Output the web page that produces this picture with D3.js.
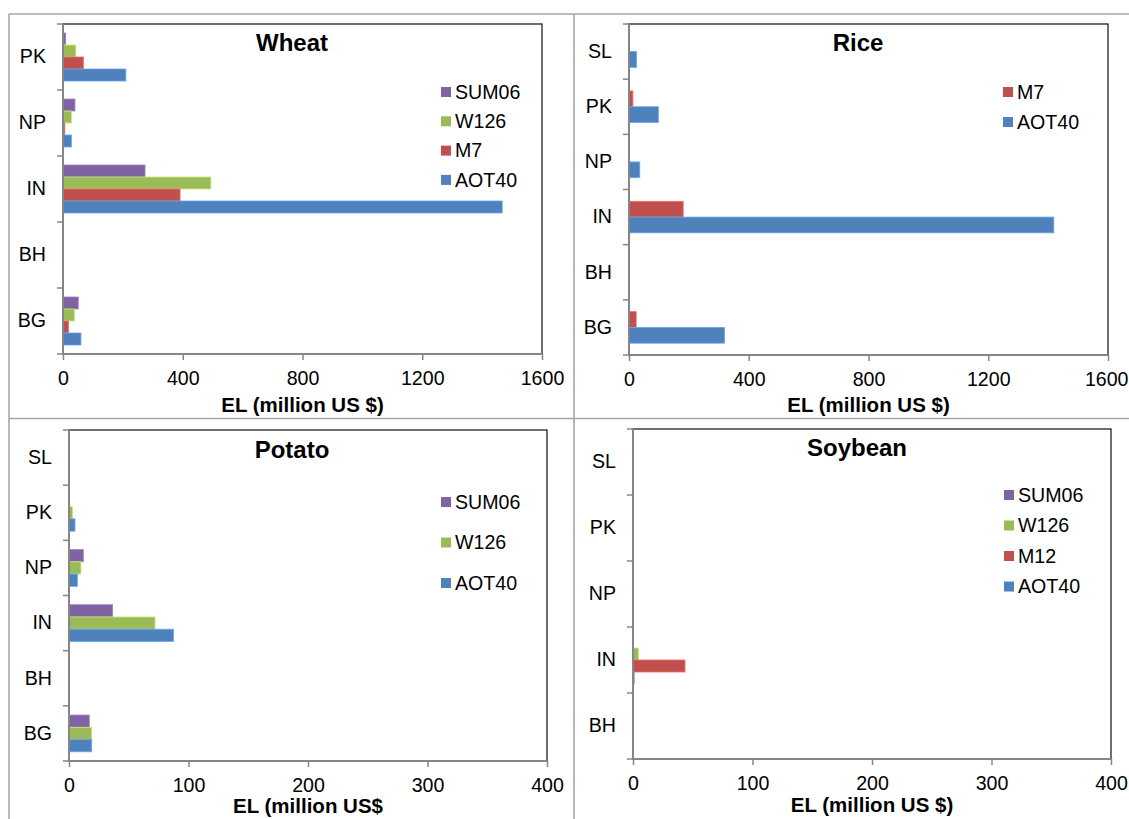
<!DOCTYPE html>
<html>
<head>
<meta charset="utf-8">
<script src="https://cdn.jsdelivr.net/npm/d3@7"></script>
<style>
  body { margin: 0; background: #fff; }
  svg { display: block; font-family: "Liberation Sans", Arial, sans-serif; }
</style>
</head>
<body>
<svg width="1129" height="819"></svg>
<script>
// data (million US $)
var wheatCats = ["PK", "NP", "IN", "BH", "BG"];
var wheatSeries = ["SUM06", "W126", "M7", "AOT40"];
var wheatSUM06 = [9, 40, 274, 0, 51];
var wheatW126 = [43, 28, 494, 0, 38];
var wheatM7 = [68, 6, 391, 0, 18];
var wheatAOT40 = [210, 28, 1467, 0, 60];

var riceCats = ["SL", "PK", "NP", "IN", "BH", "BG"];
var riceSeries = ["M7", "AOT40"];
var riceM7 = [0, 13, 0, 181, 0, 24];
var riceAOT40 = [25, 98, 36, 1419, 0, 319];

var potatoCats = ["SL", "PK", "NP", "IN", "BH", "BG"];
var potatoSeries = ["SUM06", "W126", "AOT40"];
var potatoSUM06 = [0, 0.5, 12, 36.5, 0, 17];
var potatoW126 = [0, 3, 10, 72, 0, 19];
var potatoAOT40 = [0, 5, 7, 87.5, 0, 19];

var soyCats = ["SL", "PK", "NP", "IN", "BH"];
var soySeries = ["SUM06", "W126", "M12", "AOT40"];
var soySUM06 = [0, 0, 0, 0, 0];
var soyW126 = [0, 0, 0, 4.5, 0];
var soyM12 = [0, 0, 0, 43.5, 0];
var soyAOT40 = [0, 0, 0, 1, 0];

var bigTicks = [0, 400, 800, 1200, 1600];
var smallTicks = [0, 100, 200, 300, 400];

var color = {SUM06: "#8064A2", W126: "#9BBB59", M7: "#C0504D", M12: "#C0504D", AOT40: "#4F81BD"};

var fs = "19.6px";
var W = 1129;

var svg = d3.select("svg");

// light frames round the four charts
var frame = svg.append("g").attr("stroke", "#a6a6a6").attr("stroke-width", 1.6);
frame.append("line").attr("x1", 9).attr("x2", W).attr("y1", 14).attr("y2", 14);
frame.append("line").attr("x1", 9).attr("x2", 9).attr("y1", 14).attr("y2", 819);
frame.append("line").attr("x1", 574).attr("x2", 574).attr("y1", 14).attr("y2", 819);
frame.append("line").attr("x1", 9).attr("x2", W).attr("y1", 418.5).attr("y2", 418.5);

function drawPanel(p) {
  var x = d3.scaleLinear().domain([0, p.max]).range([p.x0, p.x1]);
  var y = d3.scaleBand().domain(p.cats).range([p.y0, p.y1]).paddingInner(0).paddingOuter(0);
  // gap width 150% like excel
  var ys = d3.scaleBand().domain(p.series).range([0, y.bandwidth()]).paddingInner(0).paddingOuter(0.75);

  var g = svg.append("g");

  // plot area box
  g.append("rect")
    .attr("x", p.x0).attr("y", p.y0)
    .attr("width", p.x1 - p.x0).attr("height", p.y1 - p.y0)
    .attr("fill", "none").attr("stroke", "#222").attr("stroke-width", 1.3);

  var rows = [];
  p.cats.forEach(function(c, i) {
    p.series.forEach(function(s, j) {
      rows.push({cat: c, series: s, value: p.values[j][i]});
    });
  });

  g.selectAll("rect.bar")
    .data(rows.filter(function(d) { return d.value > 0; }))
    .enter().append("rect")
    .attr("class", "bar")
    .attr("x", x(0))
    .attr("y", function(d) { return y(d.cat) + ys(d.series); })
    .attr("width", function(d) { return x(d.value) - x(0); })
    .attr("height", ys.bandwidth())
    .attr("fill", function(d) { return color[d.series]; })
    .attr("stroke", function(d) { return d3.color(color[d.series]).brighter(0.7); })
    .attr("stroke-width", 0.8);

  // category axis, ticks between categories
  var yAxis = g.append("g")
    .attr("transform", "translate(" + p.x0 + ",0)")
    .call(d3.axisLeft(y).tickSize(0).tickPadding(17));
  yAxis.select(".domain").remove();
  yAxis.selectAll("text").attr("font-size", fs).attr("fill", "#000").attr("font-family", null);

  var bounds = p.cats.map(function(c) { return y(c); }).concat([p.y1]);
  g.selectAll("line.ytick")
    .data(bounds).enter().append("line")
    .attr("x1", p.x0 - 6).attr("x2", p.x0)
    .attr("y1", function(d) { return d; }).attr("y2", function(d) { return d; })
    .attr("stroke", "#868686").attr("stroke-width", 1.5);
  g.append("line")
    .attr("x1", p.x0).attr("x2", p.x0).attr("y1", p.y0).attr("y2", p.y1)
    .attr("stroke", "#868686").attr("stroke-width", 2);

  // value axis
  var xAxis = g.append("g")
    .attr("transform", "translate(0," + p.y1 + ")")
    .call(d3.axisBottom(x).tickValues(p.ticks).tickSize(6).tickPadding(11).tickFormat(d3.format("d")));
  xAxis.select(".domain").attr("stroke", "#868686").attr("stroke-width", 2)
    .attr("d", "M" + p.x0 + ",0H" + p.x1);
  xAxis.selectAll(".tick line").attr("stroke", "#868686").attr("stroke-width", 1.5);
  xAxis.selectAll("text").attr("font-size", fs).attr("fill", "#000").attr("font-family", null)
    .each(function(d) {
      // keep the last label inside the page
      var half = this.getComputedTextLength() / 2;
      var over = x(d) + half - (W - 1);
      if (over > 0) d3.select(this).attr("x", -over);
    });

  g.append("text")
    .attr("x", (p.x0 + p.x1) / 2).attr("y", p.y1 + p.titleGap).attr("dy", "0.35em")
    .attr("text-anchor", "middle").attr("font-size", "20.5px").attr("font-weight", "bold")
    .text(p.xTitle);

  g.append("text")
    .attr("x", p.titleX).attr("y", p.titleY).attr("dy", "0.35em")
    .attr("text-anchor", "middle").attr("font-size", "24px").attr("font-weight", "bold")
    .text(p.title);

  // legend
  var leg = g.selectAll("g.leg")
    .data(p.legend).enter().append("g")
    .attr("transform", function(d, i) { return "translate(" + p.legX + "," + (p.legY + i * p.legStep) + ")"; });
  leg.append("rect").attr("x", 0).attr("y", -5).attr("width", 10).attr("height", 10)
    .attr("fill", function(d) { return color[d]; });
  leg.append("text").attr("x", 14).attr("dy", "0.35em").attr("font-size", fs)
    .text(function(d) { return d; });
}

drawPanel({
  title: "Wheat", titleX: 292, titleY: 43,
  cats: wheatCats, series: wheatSeries,
  values: [wheatSUM06, wheatW126, wheatM7, wheatAOT40],
  max: 1600, ticks: bigTicks,
  x0: 63, x1: 542, y0: 24, y1: 354,
  xTitle: "EL (million US $)", titleGap: 51,
  legend: ["SUM06", "W126", "M7", "AOT40"], legX: 441, legY: 92, legStep: 29.3
});

drawPanel({
  title: "Rice", titleX: 858, titleY: 43,
  cats: riceCats, series: riceSeries,
  values: [riceM7, riceAOT40],
  max: 1600, ticks: bigTicks,
  x0: 629, x1: 1108, y0: 24, y1: 355,
  xTitle: "EL (million US $)", titleGap: 50,
  legend: ["M7", "AOT40"], legX: 1003, legY: 92, legStep: 30
});

drawPanel({
  title: "Potato", titleX: 292, titleY: 450,
  cats: potatoCats, series: potatoSeries,
  values: [potatoSUM06, potatoW126, potatoAOT40],
  max: 400, ticks: smallTicks,
  x0: 69, x1: 547, y0: 430, y1: 761,
  xTitle: "EL (million US$", titleGap: 45,
  legend: ["SUM06", "W126", "AOT40"], legX: 441, legY: 502, legStep: 40.5
});

drawPanel({
  title: "Soybean", titleX: 857, titleY: 448,
  cats: soyCats, series: soySeries,
  values: [soySUM06, soyW126, soyM12, soyAOT40],
  max: 400, ticks: smallTicks,
  x0: 633, x1: 1111, y0: 429, y1: 759,
  xTitle: "EL (million US $)", titleGap: 46,
  legend: ["SUM06", "W126", "M12", "AOT40"], legX: 1004, legY: 495, legStep: 30.5
});
</script>
</body>
</html>
